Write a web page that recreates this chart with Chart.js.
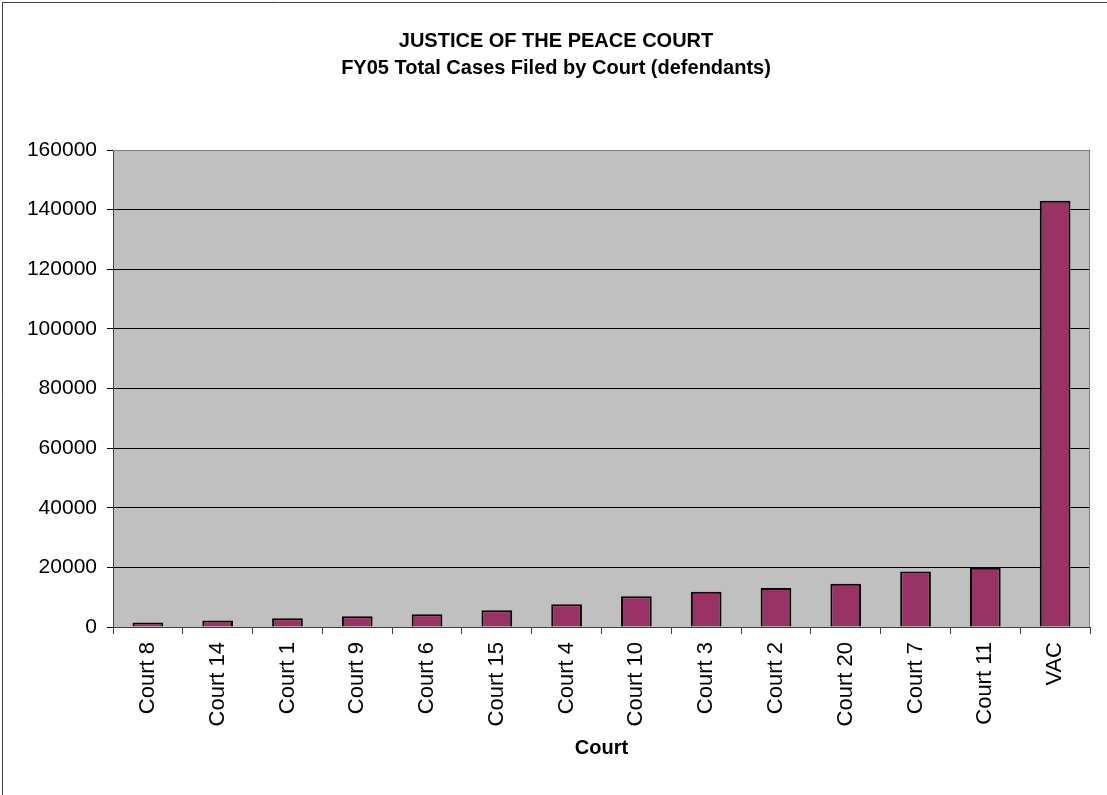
<!DOCTYPE html>
<html>
<head>
<meta charset="utf-8">
<script src="https://cdn.jsdelivr.net/npm/chart.js@4/dist/chart.umd.min.js"></script>
<style>
  html, body { margin: 0; padding: 0; background: #fff; }
  #wrap { width: 1107px; height: 795px; }
</style>
</head>
<body>
<div id="wrap"><canvas id="myChart" width="1107" height="795"></canvas></div>
<script>
// Dữ liệu biểu đồ
const courts = ["Court 8", "Court 14", "Court 1", "Court 9", "Court 6", "Court 15", "Court 4",
  "Court 10", "Court 3", "Court 2", "Court 20", "Court 7", "Court 11", "VAC"];
const casesFiled = [1500, 2200, 2900, 3600, 4300, 5600, 7600,
  10300, 11800, 13100, 14500, 18600, 19900, 143000];
const titleLines = ["JUSTICE OF THE PEACE COURT", "FY05 Total Cases Filed by Court (defendants)"];
const xTitle = "Court";

const FONT = "'Liberation Sans', Arial, sans-serif";

// Nền xám cho vùng vẽ + khung + tiêu đề
const plotBackground = {
  id: "plotBackground",
  beforeDraw(chart) {
    const { ctx, chartArea: a } = chart;
    ctx.save();
    ctx.fillStyle = "#c0c0c0";
    ctx.fillRect(a.left, a.top, a.right - a.left, a.bottom - a.top);
    ctx.restore();
  },
  afterDraw(chart) {
    const { ctx, chartArea: a } = chart;
    ctx.save();
    ctx.strokeStyle = "#808080";
    ctx.lineWidth = 1;
    ctx.beginPath();
    ctx.moveTo(a.left, a.top + 0.5);
    ctx.lineTo(a.right - 0.5, a.top + 0.5);
    ctx.lineTo(a.right - 0.5, a.bottom);
    ctx.stroke();
    // khung ngoài (trái + trên)
    ctx.strokeStyle = "#404040";
    ctx.beginPath();
    ctx.moveTo(2.5, 795);
    ctx.lineTo(2.5, 2.5);
    ctx.lineTo(1107, 2.5);
    ctx.stroke();
    // tiêu đề
    ctx.fillStyle = "#000";
    ctx.font = "bold 20px " + FONT;
    ctx.textAlign = "center";
    ctx.textBaseline = "alphabetic";
    ctx.fillText(titleLines[0], 556, 47);
    ctx.fillText(titleLines[1], 556, 74);
    ctx.restore();
  }
};

new Chart(document.getElementById("myChart"), {
  type: "bar",
  data: {
    labels: courts,
    datasets: [{
      label: "Cases",
      data: casesFiled,
      backgroundColor: "#993366",
      borderColor: "#000000",
      borderWidth: 2,
      borderSkipped: "bottom",
      barPercentage: 0.44,
      categoryPercentage: 1.0
    }]
  },
  options: {
    responsive: false,
    animation: false,
    layout: { padding: { top: 150, right: 17, bottom: 0, left: 0 } },
    plugins: {
      legend: { display: false },
      title: { display: false },
      tooltip: { enabled: false }
    },
    scales: {
      x: {
        afterFit(scale) { scale.height = 168; },
        grid: { offset: true, drawOnChartArea: false, drawTicks: true, tickLength: 7, color: "#404040" },
        border: { color: "#404040" },
        ticks: {
          minRotation: 90, maxRotation: 90, autoSkip: false, padding: 8,
          color: "#000", font: { family: FONT, size: 22 }
        },
        title: {
          display: true, text: xTitle, color: "#000",
          font: { family: FONT, size: 20, weight: "bold" },
          padding: { top: 0, bottom: 35 }
        }
      },
      y: {
        min: 0, max: 160000,
        afterFit(scale) { scale.width = 113; },
        grid: { color: "#000000", tickLength: 6, drawTicks: true },
        border: { color: "#404040" },
        ticks: {
          stepSize: 20000, padding: 10, color: "#000",
          font: { family: FONT, size: 21 },
          callback: (v) => String(v)
        }
      }
    }
  },
  plugins: [plotBackground]
});
</script>
</body>
</html>
